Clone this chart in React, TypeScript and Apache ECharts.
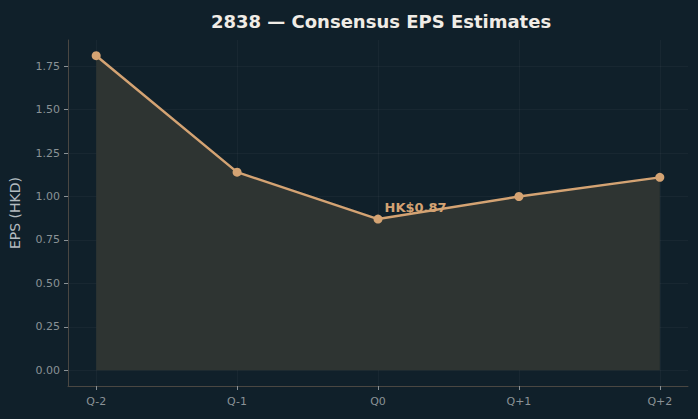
import React, { useEffect, useRef } from "react";
import * as echarts from "echarts";

const quarters = ["Q-2", "Q-1", "Q0", "Q+1", "Q+2"];
const epsEstimates = [1.81, 1.14, 0.87, 1.0, 1.11];
const yTickValues = [0, 0.25, 0.5, 0.75, 1.0, 1.25, 1.5, 1.75];
const highlightIndex = 2;

const BG = "#10202a";
const ACCENT = "#d4a373";
const FONT = "DejaVu Sans";

export default function App() {
  const ref = useRef<HTMLDivElement>(null);

  useEffect(() => {
    if (!ref.current) return;
    const chart = echarts.init(ref.current, undefined, { renderer: "svg" });
    const maxV = Math.max(...epsEstimates);
    const pad = maxV * 0.05;
    const xIdx = quarters.map((_, i) => i);

    chart.setOption({
      animation: false,
      backgroundColor: BG,
      title: {
        text: "2838 — Consensus EPS Estimates",
        left: 376,
        textAlign: "center",
        top: 7,
        textStyle: { color: "#f0ece6", fontFamily: FONT, fontWeight: "bold", fontSize: 18 },
      },
      grid: {
        left: 68,
        right: 10,
        top: 40,
        bottom: 33,
        containLabel: false,
        outerBoundsMode: "none",
      },
      xAxis: {
        type: "value",
        min: -0.2,
        max: quarters.length - 1 + 0.2,
        axisLine: { show: true, onZero: false, lineStyle: { color: "#4a4742", width: 1 } },
        axisTick: { show: true, length: 4, lineStyle: { color: "#8a9296" }, customValues: xIdx },
        axisLabel: {
          color: "#8a9296",
          fontFamily: FONT,
          fontSize: 11,
          margin: 10,
          customValues: xIdx,
          formatter: (v: number) => quarters[Math.round(v)] ?? "",
        },
        splitLine: { show: true, lineStyle: { color: "rgba(255,255,255,0.035)" } },
      },
      yAxis: {
        type: "value",
        min: -pad,
        max: maxV + pad,
        name: "EPS (HKD)",
        nameLocation: "middle",
        nameGap: 46,
        nameRotate: 90,
        nameTextStyle: { color: "#b4bcc0", fontFamily: FONT, fontSize: 14 },
        axisLine: { show: true, onZero: false, lineStyle: { color: "#4a4742", width: 1 } },
        axisTick: { show: true, length: 4, lineStyle: { color: "#8a9296" }, customValues: yTickValues },
        axisLabel: {
          color: "#8a9296",
          fontFamily: FONT,
          fontSize: 11,
          margin: 8,
          customValues: yTickValues,
          formatter: (v: number) => v.toFixed(2),
        },
        splitLine: { show: true, lineStyle: { color: "rgba(255,255,255,0.035)" } },
      },
      series: [
        {
          type: "line",
          data: epsEstimates.map((v, i) =>
            i === highlightIndex
              ? {
                  value: [i, v],
                  label: {
                    show: true,
                    formatter: "HK$" + v.toFixed(2),
                    position: [11, -7],
                    align: "left",
                    verticalAlign: "middle",
                    color: ACCENT,
                    fontFamily: FONT,
                    fontWeight: "bold",
                    fontSize: 13,
                  },
                }
              : { value: [i, v] }
          ),
          symbol: "circle",
          symbolSize: 9,
          lineStyle: { color: ACCENT, width: 2.5 },
          itemStyle: { color: ACCENT },
          areaStyle: { color: "#2e3432", opacity: 1, origin: 0 },
          z: 3,
        },
      ],
    });

    return () => chart.dispose();
  }, []);

  return (
    <div
      ref={ref}
      style={{ position: "fixed", left: 0, top: 0, width: 698, height: 419 }}
    />
  );
}
